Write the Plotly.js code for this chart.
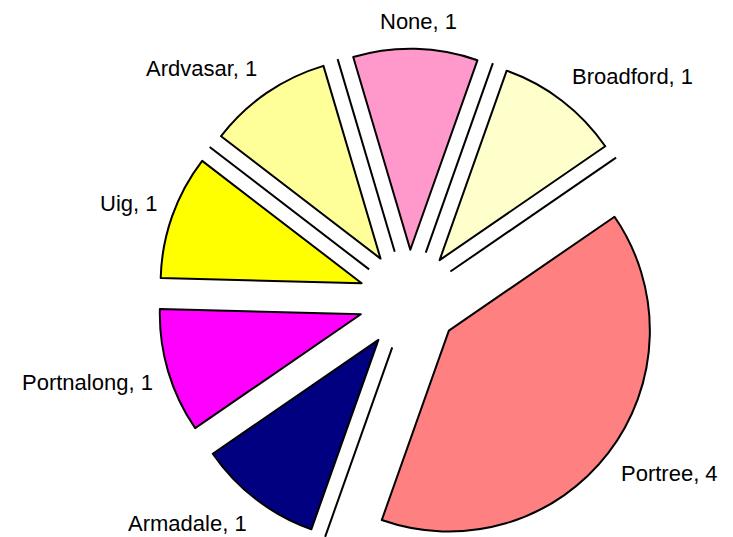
<!DOCTYPE html>
<html>
<head>
<meta charset="utf-8">
<script src="https://cdn.plot.ly/plotly-3.0.1.min.js"></script>
<style>
html, body { margin: 0; padding: 0; overflow: hidden; background: #fff; }
#chart { width: 733px; height: 600px; }
</style>
</head>
<body>
<div id="chart"></div>
<script>
// Data
const labels = ['Broadford', 'Portree', 'Armadale', 'Portnalong', 'Uig', 'Ardvasar', 'None'];
const values = [1, 4, 1, 1, 1, 1, 1];
const colors = ['#FFFFCC', '#FF8080', '#000080', '#FF00FF', '#FFFF00', '#FFFF99', '#FF99CC'];
// slice boundaries (after slice index) that show a drawn side line
const sideEdgesAfter = [0, 1, 4, 5, 6];

// Geometry / style
const W = 733, H = 600;
const CX = 409, CY = 300, R = 201, PULL = 0.25, ROT = 19.5, GAP = 16;
const FSIZE = 22;
const FONT = '"Liberation Sans", Arial, sans-serif';
const boxW = 2 * R * (1 + PULL);

const total = values.reduce((a, b) => a + b, 0);
let cum = 0;
const cumAfter = values.map(v => (cum += v));
const deg = Math.PI / 180;

// side lines along slice boundaries
const sx = [], sy = [];
sideEdgesAfter.forEach(i => {
  const ang = (ROT + cumAfter[i] / total * 360) * deg;
  const r0 = R * PULL, r1 = R * (1 + PULL);
  sx.push(CX + r0 * Math.sin(ang), CX + r1 * Math.sin(ang), null);
  sy.push(CY - r0 * Math.cos(ang), CY - r1 * Math.cos(ang), null);
});

// outside labels
const ctx = document.createElement('canvas').getContext('2d');
ctx.font = FSIZE + 'px ' + FONT;
const clamp = t => Math.max(-1, Math.min(1, t));
const annotations = labels.map((lab, i) => {
  const text = lab + ', ' + values[i];
  const hw = ctx.measureText(text).width / 2, hh = FSIZE / 2;
  const mid = (ROT + (cumAfter[i] - values[i] / 2) / total * 360) * deg;
  const ux = Math.sin(mid), uy = -Math.cos(mid);
  const ax = CX + ux * R * (1 + PULL), ay = CY + uy * R * (1 + PULL);
  return {
    x: ax + ux * GAP + hw * clamp(2 * ux),
    y: ay + uy * GAP + hh * clamp(2 * uy),
    xref: 'x', yref: 'y',
    text: text,
    showarrow: false,
    xanchor: 'center', yanchor: 'middle',
    font: { family: FONT, size: FSIZE, color: '#000' }
  };
});

const pie = {
  type: 'pie',
  labels: labels,
  values: values,
  sort: false,
  direction: 'clockwise',
  rotation: ROT,
  pull: values.map(() => PULL),
  marker: { colors: colors, line: { color: '#000', width: 2 } },
  textinfo: 'none',
  hoverinfo: 'none',
  showlegend: false,
  domain: { x: [(CX - boxW / 2) / W, (CX + boxW / 2) / W], y: [0, 1] }
};

const sides = {
  type: 'scatter',
  mode: 'lines',
  x: sx, y: sy,
  line: { color: '#000', width: 2 },
  hoverinfo: 'none',
  showlegend: false
};

const layout = {
  width: W, height: H,
  margin: { l: 0, r: 0, t: 0, b: 0 },
  paper_bgcolor: '#fff', plot_bgcolor: 'rgba(0,0,0,0)',
  xaxis: { range: [0, W], visible: false, fixedrange: true },
  yaxis: { range: [H, 0], visible: false, fixedrange: true },
  font: { family: FONT, color: '#000' },
  annotations: annotations,
  showlegend: false
};

Plotly.newPlot('chart', [sides, pie], layout, { staticPlot: true, displayModeBar: false });
</script>
</body>
</html>
